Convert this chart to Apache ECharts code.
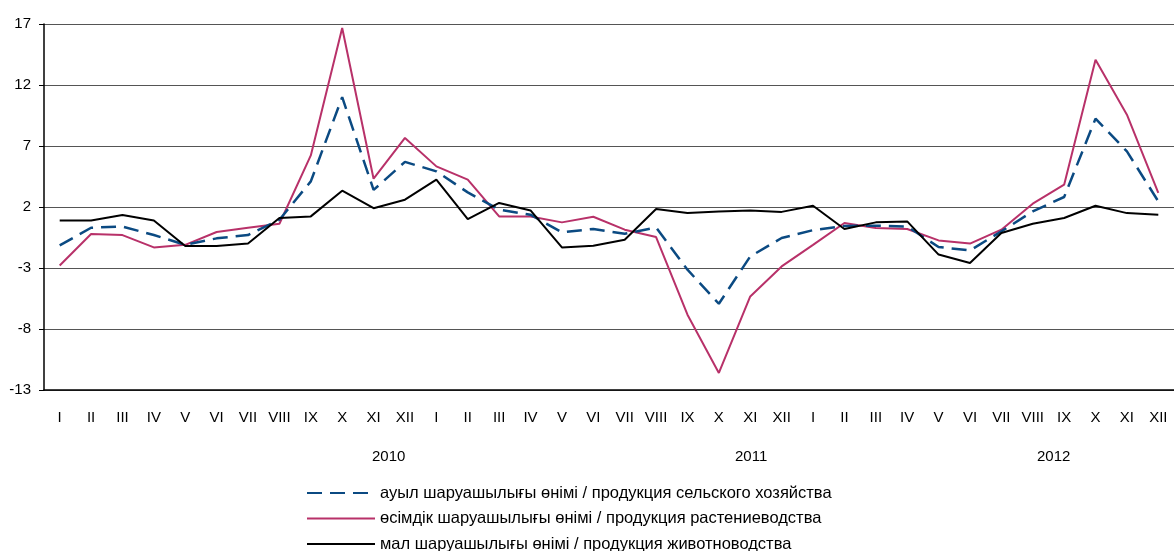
<!DOCTYPE html>
<html>
<head>
<meta charset="utf-8">
<script src="https://cdn.jsdelivr.net/npm/echarts@6/dist/echarts.min.js"></script>
<style>
html,body{margin:0;padding:0;background:#fff;}
#chart{width:1174px;height:551px;}
</style>
</head>
<body>
<div id="chart"></div>
<script>
const months = ['I','II','III','IV','V','VI','VII','VIII','IX','X','XI','XII'];
const categories = [].concat(months, months, months);
const years = ['2010','2011','2012'];
const seriesNames = [
  'ауыл шаруашылығы өнімі / продукция сельского хозяйства',
  'өсімдік шаруашылығы өнімі / продукция растениеводства',
  'мал шаруашылығы өнімі / продукция животноводства'
];
const agriculture = [
  -1.15, 0.3, 0.4, -0.3, -1.1, -0.57, -0.3, 0.96, 4.1, 11.0, 3.4, 5.7,
  4.92, 3.2, 1.78, 1.37, -0.08, 0.2, -0.2, 0.33, -3.14, -5.93, -2.05, -0.54,
  0.1, 0.45, 0.47, 0.4, -1.28, -1.56, 0.0, 1.64, 2.82, 9.24, 6.56, 2.46
];
const crops = [
  -2.79, -0.21, -0.3, -1.31, -1.1, -0.05, 0.3, 0.63, 6.23, 16.67, 4.32, 7.66,
  5.33, 4.24, 1.23, 1.23, 0.74, 1.2, 0.14, -0.46, -6.83, -11.6, -5.33, -2.87,
  -1.1, 0.69, 0.28, 0.2, -0.74, -1.0, 0.14, 2.27, 3.83, 14.07, 9.57, 3.15
];
const livestock = [
  0.9, 0.9, 1.34, 0.9, -1.2, -1.2, -1.0, 1.1, 1.23, 3.34, 1.9, 2.6,
  4.24, 1.0, 2.33, 1.72, -1.31, -1.17, -0.68, 1.84, 1.5, 1.64, 1.72, 1.6,
  2.1, 0.2, 0.74, 0.82, -1.9, -2.59, -0.13, 0.63, 1.1, 2.1, 1.5, 1.37
];

const FONT = '"Liberation Sans", Arial, sans-serif';
const chart = echarts.init(document.getElementById('chart'), null, {renderer: 'canvas'});
const option = {
  animation: false,
  backgroundColor: '#fff',
  textStyle: {fontFamily: FONT},
  grid: {left: 44, right: -6, top: 24, bottom: 161, containLabel: false},
  xAxis: {
    type: 'category',
    data: categories,
    boundaryGap: true,
    axisLine: {show: true, onZero: false, lineStyle: {color: '#000', width: 1.5}},
    axisTick: {show: false},
    axisLabel: {interval: 0, color: '#000', fontSize: 15, margin: 20, fontFamily: FONT},
    splitLine: {show: false}
  },
  yAxis: {
    type: 'value',
    min: -13, max: 17, interval: 5,
    axisLine: {show: true, lineStyle: {color: '#000', width: 1.5}},
    axisTick: {show: true, length: 5, lineStyle: {color: '#000'}},
    axisLabel: {color: '#000', fontSize: 15, margin: 13, fontFamily: FONT},
    splitLine: {show: true, lineStyle: {color: '#555', width: 1.2}}
  },
  legend: {
    orient: 'vertical',
    left: 301, top: 479.5, height: 90,
    itemWidth: 68, itemHeight: 14, itemGap: 8.5,
    data: seriesNames,
    itemStyle: {opacity: 0},
    textStyle: {color: '#000', fontSize: 16.5, fontFamily: FONT, padding: [0, 0, 0, 0]}
  },
  graphic: years.map((y, i) => ({
    type: 'text',
    left: [372, 735, 1037][i],
    top: 449,
    style: {text: y, fill: '#000', font: '15px ' + FONT}
  })),
  series: [
    {
      name: seriesNames[1], type: 'line', data: crops, symbol: 'none',
      lineStyle: {color: '#B83169', width: 2}, itemStyle: {color: '#B83169'}, z: 2
    },
    {
      name: seriesNames[0], type: 'line', data: agriculture, symbol: 'none',
      lineStyle: {color: '#0B4A82', width: 2.5, type: [15, 8]}, itemStyle: {color: '#0B4A82'}, z: 3
    },
    {
      name: seriesNames[2], type: 'line', data: livestock, symbol: 'none',
      lineStyle: {color: '#000', width: 2}, itemStyle: {color: '#000'}, z: 4
    }
  ]
};
chart.setOption(option);
</script>
</body>
</html>
